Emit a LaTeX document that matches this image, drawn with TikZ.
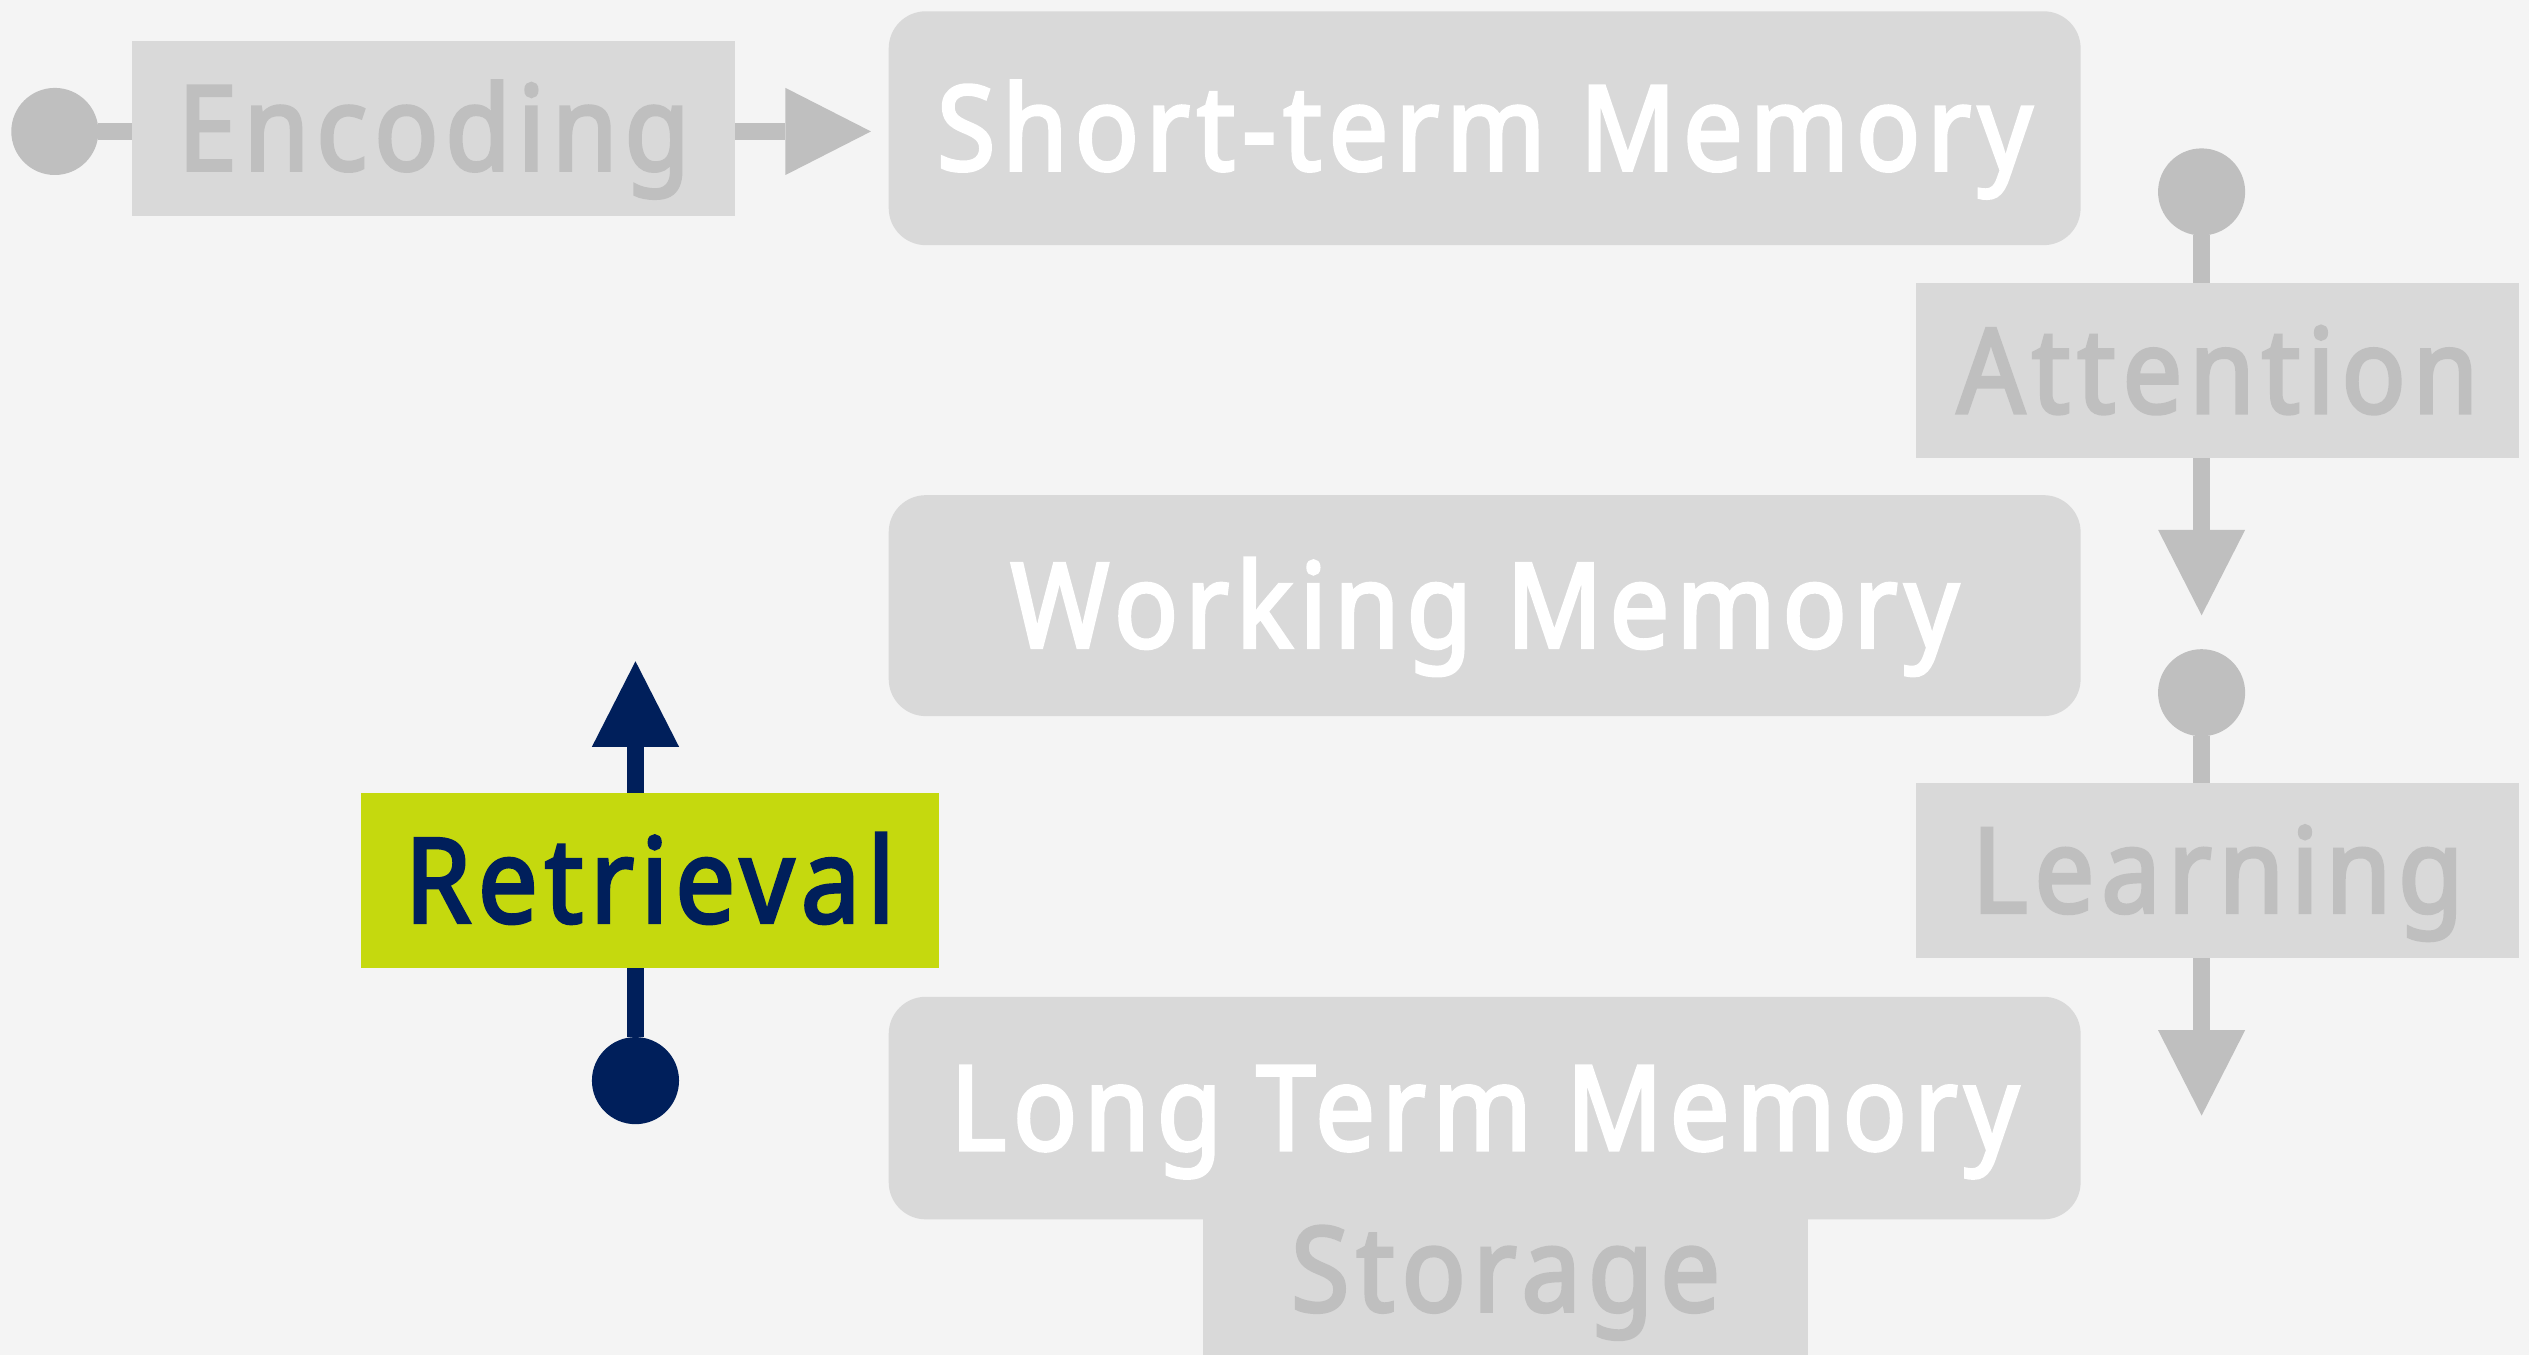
\documentclass[tikz,border=0pt]{standalone}
\usepackage{fontspec}
\setmainfont{Noto Sans}[AutoFakeBold=2.8, FakeStretch=0.9, LetterSpace=6.0]
\usetikzlibrary{arrows.meta}
\definecolor{bgc}{HTML}{F4F4F4}
\definecolor{boxc}{HTML}{D9D9D9}
\definecolor{greyc}{HTML}{BFBFBF}
\definecolor{limec}{HTML}{C5D90E}
\definecolor{navyc}{HTML}{001F5B}
\begin{document}
\begin{tikzpicture}[x=1pt,y=-1pt,
  lbl/.style={font=\fontsize{73}{80}\selectfont\bfseries, text height=52pt, text depth=0pt, inner sep=0pt},
  plainbox/.style={lbl, rectangle, fill=boxc, text=greyc, minimum width=374pt, minimum height=108.5pt},
  membox/.style={lbl, rectangle, rounded corners=23pt, fill=boxc, text=white, minimum width=739pt},
  retbox/.style={lbl, rectangle, fill=limec, text=navyc, minimum width=358pt, minimum height=108.5pt},
  conn/.style={line width=10.7pt, draw=#1, {Circle[length=54pt,line width=0pt]}-{Triangle[length=53pt,width=54pt,line width=0pt]}}
]
\fill[bgc] (0,0) rectangle (1568,840);
\useasboundingbox (0,0) rectangle (1568,840);
% connector end points
\coordinate (encS) at (7,81.5);
\coordinate (encT) at (540,81.5);
\coordinate (attS) at (1365,92);
\coordinate (attT) at (1365,381.5);
\coordinate (lrnS) at (1365,402.5);
\coordinate (lrnT) at (1365,691.7);
\coordinate (retS) at (394,697);
\coordinate (retT) at (394,410);
% connectors (behind the boxes)
\draw[conn=greyc] (encS) -- (encT);
\draw[conn=greyc] (attS) -- (attT);
\draw[conn=greyc] (lrnS) -- (lrnT);
\draw[conn=navyc] (retS) -- (retT);
% boxes
\node[plainbox] (enc) at (269,79.5) {Encoding};
\node[membox, minimum height=145pt] (stm) at (920.5,79.5) {Short-term Memory};
\node[plainbox] (att) at (1375,230) {Attention};
\node[membox, minimum height=137pt] (wm) at (920.5,375.5) {Working Memory};
\node[plainbox] (lrn) at (1375,539.7) {Learning};
\node[retbox] (ret) at (403,546) {Retrieval};
\node[plainbox, minimum width=375pt] (sto) at (933.5,787) {Storage};
\node[membox, minimum height=138pt] (ltm) at (920.5,687) {Long Term Memory};
\end{tikzpicture}
\end{document}
